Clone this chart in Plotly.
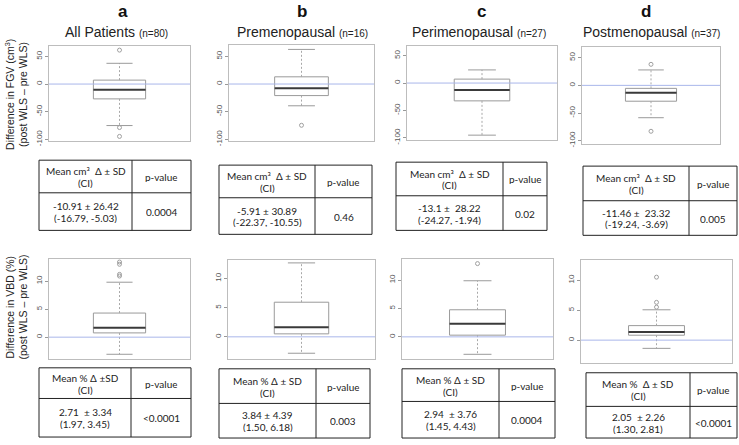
import plotly.graph_objects as go

W, H = 739, 445

# ---------------- data ----------------
panel_letters = ["a", "b", "c", "d"]
group_names = ["All Patients", "Premenopausal", "Perimenopausal", "Postmenopausal"]
group_n = [80, 16, 27, 37]

# FGV difference (cm3) box statistics
fgv_q1 = [-26.8, -20.9, -32.5, -28.6]
fgv_median = [-10.2, -7.7, -12.6, -13.2]
fgv_q3 = [7.1, 13.0, 7.2, -5.4]
fgv_lower = [-75.0, -39.3, -95.1, -58.4]
fgv_upper = [37.5, 62.5, 24.0, 27.9]
fgv_outliers = [[61.3, -78.6, -94.6], [-74.5], [], [38.0, -82.9]]
fgv_ticks = [-100, -50, 0, 50]

# VBD difference (%) box statistics
vbd_q1 = [0.76, 0.51, 0.30, 0.82]
vbd_median = [1.70, 1.64, 2.33, 1.37]
vbd_q3 = [4.30, 5.93, 4.77, 2.42]
vbd_lower = [-3.05, -2.81, -3.07, -1.37]
vbd_upper = [9.8, 12.66, 9.88, 5.06]
vbd_outliers = [[13.4, 13.0, 11.2, 10.9], [], [12.9], [10.5, 6.3, 5.5]]
vbd_ticks = [0, 5, 10]

# table contents
fgv_head = ["Mean cm³  Δ ± SD"] * 4
fgv_mean_sd = ["-10.91 ± 26.42", "-5.91 ± 30.89", "-13.1 ±  28.22", "-11.46 ±  23.32"]
fgv_ci = ["(-16.79, -5.03)", "(-22.37, -10.55)", "(-24.27, -1.94)", "(-19.24, -3.69)"]
fgv_p = ["0.0004", "0.46", "0.02", "0.005"]

vbd_head = ["Mean % Δ ±SD", "Mean % Δ ± SD", "Mean % Δ ± SD", "Mean %  Δ ± SD"]
vbd_mean_sd = ["2.71  ± 3.34", "3.84 ± 4.39", "2.94  ± 3.76", "2.05  ± 2.26"]
vbd_ci = ["(1.97, 3.45)", "(1.50, 6.18)", "(1.45, 4.43)", "(1.30, 2.81)"]
vbd_p = ["<0.0001", "0.003", "0.0004", "<0.0001"]

# ---------------- layout (pixel geometry) ----------------
top_frames = [(49, 190, 47, 143), (229, 374, 46, 143), (407, 557, 47, 142), (582, 720, 47.7, 145.7)]
bot_frames = [(49, 190, 262, 363), (228, 375, 262.7, 362.7), (402, 553, 262, 362.7), (581, 732, 262.7, 366.7)]
top_ranges = [[-103.6, 67.9], [-103.6, 69.6], [-104.7, 66.8], [-106, 69]]
bot_ranges = [[-3.88, 13.93], [-3.73, 13.2], [-3.83, 13.7], [-3.74, 13.4]]

# tables: x0, x1, y0, y1, column divider, row divider
top_tables = [(39, 191, 162, 233, 132, 195), (219, 372, 167, 237, 315, 200),
              (396, 547, 164, 233, 503, 198), (583, 737, 168, 238, 689, 203)]
bot_tables = [(39, 191, 372, 442, 131, 403), (219, 370, 373, 443, 316, 408),
              (402, 555, 373, 443, 499, 406), (586, 737, 377, 443, 690, 411)]

letter_x = [123, 302, 481, 646]
title_x = [117, 302, 479, 651]


def fx(x):
    return x / W


def fy(y):
    return 1 - y / H


BOX_C = "#9a9a9a"
MED_C = "#3a3a3a"
FRAME_C = "#bdbdbd"
ZERO_C = "#a9b6ea"
TXT = "Liberation Sans"
TBL = "Lato"

fig = go.Figure()
layout = dict(width=W, height=H, margin=dict(l=0, r=0, t=0, b=0),
              paper_bgcolor="white", plot_bgcolor="white", showlegend=False)
shapes = []
annotations = []

panels = []
for i in range(4):
    panels.append((top_frames[i], top_ranges[i], fgv_q1[i], fgv_median[i], fgv_q3[i],
                   fgv_lower[i], fgv_upper[i], fgv_outliers[i], fgv_ticks))
for i in range(4):
    panels.append((bot_frames[i], bot_ranges[i], vbd_q1[i], vbd_median[i], vbd_q3[i],
                   vbd_lower[i], vbd_upper[i], vbd_outliers[i], vbd_ticks))

for k, (fr, yr, q1, med, q3, lo, up, outs, ticks) in enumerate(panels):
    n = k + 1
    xa = "x" if n == 1 else f"x{n}"
    ya = "y" if n == 1 else f"y{n}"
    x0, x1, y0, y1 = fr
    layout["xaxis" if n == 1 else f"xaxis{n}"] = dict(
        domain=[fx(x0), fx(x1)], range=[0.46, 1.54], anchor=ya,
        showticklabels=False, ticks="", showgrid=False, zeroline=False,
        showline=True, mirror=True, linecolor=FRAME_C, linewidth=1)
    layout["yaxis" if n == 1 else f"yaxis{n}"] = dict(
        domain=[fy(y1), fy(y0)], range=yr, anchor=xa,
        tickvals=ticks, ticktext=[str(t) for t in ticks], tickangle=-90,
        ticks="outside", ticklen=3, tickcolor="#999999",
        tickfont=dict(family=TXT, size=8, color="#555555"),
        showgrid=False, zeroline=False,
        showline=True, mirror=True, linecolor=FRAME_C, linewidth=1)

    bw = 0.2
    cw = 0.1
    # box
    fig.add_trace(go.Scatter(x=[1 - bw, 1 + bw, 1 + bw, 1 - bw, 1 - bw],
                             y=[q1, q1, q3, q3, q1], mode="lines", fill="toself",
                             fillcolor="white", line=dict(color=BOX_C, width=1),
                             xaxis=xa, yaxis=ya, hoverinfo="skip"))
    # whiskers
    fig.add_trace(go.Scatter(x=[1, 1, None, 1, 1], y=[q3, up, None, q1, lo], mode="lines",
                             line=dict(color="#a8a8a8", width=1, dash="2px,2px"),
                             xaxis=xa, yaxis=ya, hoverinfo="skip"))
    # caps
    fig.add_trace(go.Scatter(x=[1 - cw, 1 + cw, None, 1 - cw, 1 + cw], y=[up, up, None, lo, lo],
                             mode="lines", line=dict(color=BOX_C, width=1),
                             xaxis=xa, yaxis=ya, hoverinfo="skip"))
    # median
    fig.add_trace(go.Scatter(x=[1 - bw, 1 + bw], y=[med, med], mode="lines",
                             line=dict(color=MED_C, width=2),
                             xaxis=xa, yaxis=ya, hoverinfo="skip"))
    # outliers
    if outs:
        fig.add_trace(go.Scatter(x=[1] * len(outs), y=outs, mode="markers",
                                 marker=dict(symbol="circle-open", size=4, color="#a0a0a0",
                                             line=dict(width=1)),
                                 xaxis=xa, yaxis=ya, hoverinfo="skip"))
    # zero reference line
    shapes.append(dict(type="line", xref=f"{xa} domain", yref=ya, x0=0, x1=1, y0=0, y1=0,
                       line=dict(color=ZERO_C, width=1)))

# titles
for i in range(4):
    annotations.append(dict(x=fx(letter_x[i]), y=fy(12), xref="paper", yref="paper",
                            text=f"<b>{panel_letters[i]}</b>", showarrow=False,
                            font=dict(family=TXT, size=17, color="#111111"),
                            xanchor="center", yanchor="middle"))
    annotations.append(dict(x=fx(title_x[i]), y=fy(32), xref="paper", yref="paper",
                            text=f"{group_names[i]} <span style='font-size:10px'>(n={group_n[i]})</span>",
                            showarrow=False, font=dict(family=TXT, size=14, color="#222222"),
                            xanchor="center", yanchor="middle"))

# y-axis titles
for (line1, line2, yc) in [("Difference in FGV (cm<sup>3</sup>)", "(post WLS – pre WLS)", 96),
                           ("Difference in VBD (%)", "(post WLS – pre WLS)", 311)]:
    annotations.append(dict(x=fx(10), y=fy(yc), xref="paper", yref="paper", text=line1,
                            textangle=-90, showarrow=False,
                            font=dict(family=TXT, size=10.5, color="#222222"),
                            xanchor="center", yanchor="middle"))
    annotations.append(dict(x=fx(23), y=fy(yc), xref="paper", yref="paper", text=line2,
                            textangle=-90, showarrow=False,
                            font=dict(family=TXT, size=10.5, color="#222222"),
                            xanchor="center", yanchor="middle"))


def add_table(geom, head, mean_sd, ci, p):
    x0, x1, y0, y1, xc, yr = geom
    ln = dict(color="#222222", width=1)
    shapes.append(dict(type="rect", xref="paper", yref="paper", x0=fx(x0), x1=fx(x1),
                       y0=fy(y1), y1=fy(y0), line=ln))
    shapes.append(dict(type="line", xref="paper", yref="paper", x0=fx(xc), x1=fx(xc),
                       y0=fy(y1), y1=fy(y0), line=ln))
    shapes.append(dict(type="line", xref="paper", yref="paper", x0=fx(x0), x1=fx(x1),
                       y0=fy(yr), y1=fy(yr), line=ln))
    lc = (x0 + xc) / 2
    rc = (xc + x1) / 2
    hc = (y0 + yr) / 2
    bc = (yr + y1) / 2
    f = dict(family=TBL, size=10, color="#222222")
    items = [(lc, hc - 6, head), (lc, hc + 6, "(CI)"), (rc, hc, "p-value"),
             (lc, bc - 6, mean_sd), (lc, bc + 6, ci), (rc, bc, p)]
    for (x, y, t) in items:
        annotations.append(dict(x=fx(x), y=fy(y), xref="paper", yref="paper", text=t,
                                showarrow=False, font=f, xanchor="center", yanchor="middle",
                                height=11, borderpad=0))


for i in range(4):
    add_table(top_tables[i], fgv_head[i], fgv_mean_sd[i], fgv_ci[i], fgv_p[i])
    add_table(bot_tables[i], vbd_head[i], vbd_mean_sd[i], vbd_ci[i], vbd_p[i])

layout["shapes"] = shapes
layout["annotations"] = annotations
fig.update_layout(**layout)
fig.write_html("out.html",
               config={"displayModeBar": False},
               post_script="document.body.style.margin='0';document.body.style.padding='0';"
                           "document.body.style.overflow='hidden';")
